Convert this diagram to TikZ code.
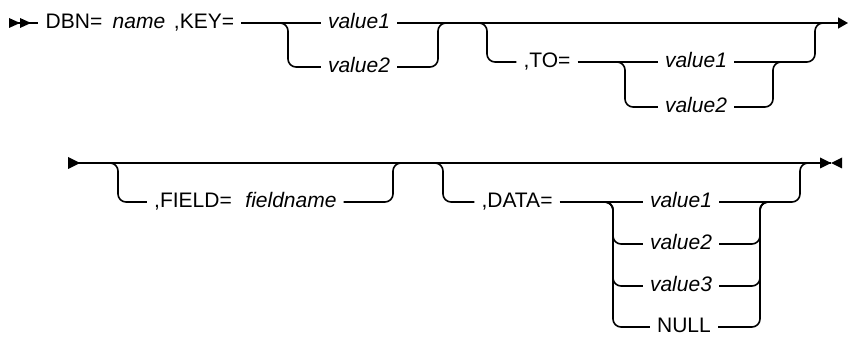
\documentclass[tikz,border=0pt]{standalone}
\usepackage{fontspec}
\setmainfont{Liberation Sans}
\usetikzlibrary{arrows.meta}

\begin{document}
\begin{tikzpicture}[
    x=1pt, y=-1pt,
    rail/.style={line width=1.6pt, rounded corners=8pt},
    term/.style={
      inner xsep=7pt, inner ysep=0pt,
      text height=16.3pt, text depth=5.5pt,
      font=\fontsize{21}{25}\selectfont
    },
    var/.style={term, font=\fontsize{21}{25}\selectfont\itshape}
  ]
  \useasboundingbox (0,0) rectangle (848,339);

  % first line
  \node[term] (dbn)    at (74,23)  {DBN=};
  \node[var]  (name)   at (139,23) {name};
  \node[term] (key)    at (204,23) {,KEY=};
  \node[var]  (keyone) at (359,23) {value1};
  \node[var]  (keytwo) at (359,67) {value2};
  \node[term] (to)     at (547,62) {,TO=};
  \node[var]  (toone)  at (696,62) {value1};
  \node[var]  (totwo)  at (696,107) {value2};

  \coordinate (start)  at (9,23);
  \coordinate (keyL)   at (288,23);
  \coordinate (keyR)   at (438,23);
  \coordinate (toL)    at (487,23);
  \coordinate (toR)    at (815,23);
  \coordinate (tovL)   at (625,62);
  \coordinate (tovR)   at (773,62);
  \coordinate (rowend) at (848,23);

  \fill (start) ++(0,-5) -- ++(11,5) -- ++(-11,5) -- cycle;
  \fill (start) ++(11,-5) -- ++(11,5) -- ++(-11,5) -- cycle;
  \draw[rail] (start) -- (dbn.west);
  \draw[rail] (key.east) -- (keyone.west);
  \draw[rail, -{Triangle[length=10pt,width=11pt]}] (keyone.east) -- (rowend);
  \draw[rail] (keyL) ++(-10,0) -- (keyL) |- (keytwo.west);
  \draw[rail] (keytwo.east) -| (keyR) -- ++(10,0);
  \draw[rail] (toL) ++(-10,0) -- (toL) |- (to.west);
  \draw[rail] (to.east) -- (toone.west);
  \draw[rail] (tovL) ++(-10,0) -- (tovL) |- (totwo.west);
  \draw[rail] (totwo.east) -| (tovR) -- ++(10,0);
  \draw[rail] (toone.east) -| (toR) -- ++(10,0);

  % second line
  \node[term] (field)     at (193,202) {,FIELD=};
  \node[var]  (fname)     at (291,202) {fieldname};
  \node[term] (data)      at (517,202) {,DATA=};
  \node[var]  (dataone)   at (681,202) {value1};
  \node[var]  (datatwo)   at (681,244) {value2};
  \node[var]  (datathree) at (681,286) {value3};
  \node[term] (datanull)  at (684,327) {NULL};

  \coordinate (cont)   at (68,163);
  \coordinate (fieldL) at (118,163);
  \coordinate (fieldR) at (393,163);
  \coordinate (dataL)  at (443,163);
  \coordinate (dataR)  at (800,163);
  \coordinate (datavL) at (613,202);
  \coordinate (datavR) at (760,202);
  \coordinate (stop)   at (831,163);

  \fill (cont) ++(0,-6) -- ++(12,6) -- ++(-12,6) -- cycle;
  \draw[rail] (cont) -- (stop);
  \fill (stop) ++(-11,-5.5) -- ++(11,5.5) -- ++(-11,5.5) -- cycle;
  \fill (stop) ++(11,-5.5) -- ++(-11,5.5) -- ++(11,5.5) -- cycle;
  \draw[rail] (fieldL) ++(-10,0) -- (fieldL) |- (field.west);
  \draw[rail] (fname.east) -| (fieldR) -- ++(10,0);
  \draw[rail] (dataL) ++(-10,0) -- (dataL) |- (data.west);
  \draw[rail] (data.east) -- (dataone.west);
  \foreach \v in {datatwo,datathree,datanull} {
    \draw[rail] (datavL) ++(-10,0) -- (datavL) |- (\v.west);
    \draw[rail] (\v.east) -| (datavR) -- ++(10,0);
  }
  \draw[rail] (dataone.east) -| (dataR) -- ++(10,0);
\end{tikzpicture}
\end{document}
